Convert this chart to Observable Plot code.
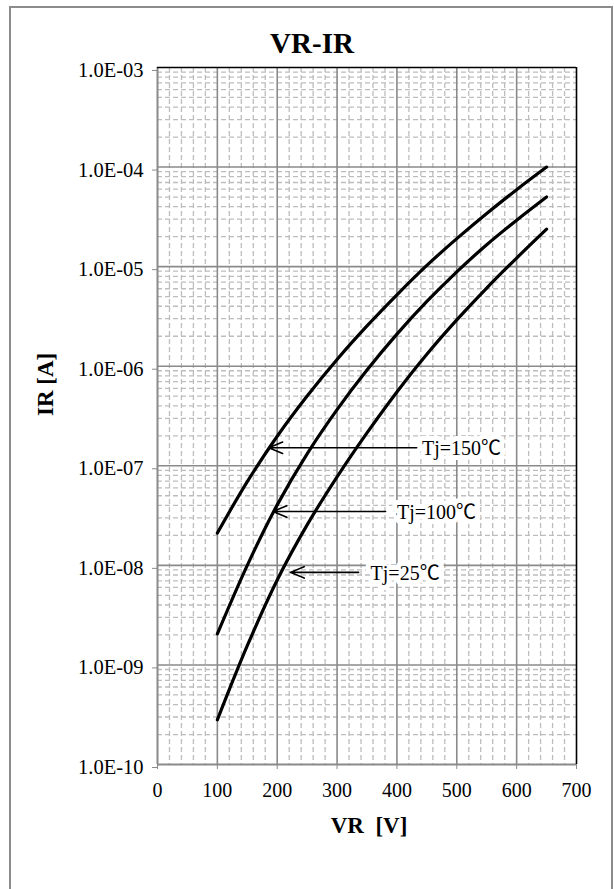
<!DOCTYPE html>
<html>
<head>
<meta charset="utf-8">
<script src="https://cdn.jsdelivr.net/npm/d3@7"></script>
<script src="https://cdn.jsdelivr.net/npm/@observablehq/plot@0.6"></script>
<style>
  html, body { margin: 0; padding: 0; background: #fff; }
  #wrap { position: relative; width: 614px; height: 889px; overflow: hidden; }
  #frame { position: absolute; left: 9px; top: 6px; width: 604px; height: 900px; border: 2px solid #8c8c8c; box-sizing: border-box; }
  #chart { position: absolute; left: 0; top: 0; }
</style>
</head>
<body>
<div id="wrap"><div id="frame"></div><div id="chart"></div></div>
<script>
// ---- data ----
const title = "VR-IR";
const xLabel = "VR  [V]";
const yLabel = "IR [A]";
const vr = [100, 150, 200, 250, 300, 350, 400, 450, 500, 550, 600, 650];
const ir150 = [2.11e-8, 6.93e-8, 1.98e-7, 5.02e-7, 1.17e-6, 2.54e-6, 5.22e-6, 1.03e-5, 1.91e-5, 3.42e-5, 5.93e-5, 1.0e-4];
const ir100 = [2.05e-9, 1.0e-8, 4.05e-8, 1.32e-7, 3.67e-7, 9.16e-7, 2.10e-6, 4.47e-6, 8.87e-6, 1.66e-5, 2.93e-5, 5.01e-5];
const ir25  = [2.81e-10, 1.56e-9, 7.14e-9, 2.55e-8, 7.74e-8, 2.14e-7, 5.52e-7, 1.32e-6, 2.92e-6, 6.10e-6, 1.22e-5, 2.38e-5];
const xTicks = [0, 100, 200, 300, 400, 500, 600, 700];
const yTicks = [1e-10, 1e-9, 1e-8, 1e-7, 1e-6, 1e-5, 1e-4, 1e-3];
const yTickLabels = ["1.0E-10", "1.0E-09", "1.0E-08", "1.0E-07", "1.0E-06", "1.0E-05", "1.0E-04", "1.0E-03"];
// annotations: label, text x, arrow tail x, arrow tip x, y
const annLabels = ["Tj=150\u2103", "Tj=100\u2103", "Tj=25\u2103"];
const annTextX = [442, 400, 356];
const annTailX = [433, 381, 336];
const annTipX = [186, 193, 222];
const annY = [1.52e-7, 3.48e-8, 8.5e-9];

// ---- build ----
const series = [
  {name: "150", ir: ir150},
  {name: "100", ir: ir100},
  {name: "25", ir: ir25}
];
const pts = series.flatMap(s => vr.map((v, i) => ({tj: s.name, vr: v, ir: s.ir[i]})));
const anns = annLabels.map((t, i) => ({t, tx: annTextX[i], x1: annTailX[i], x2: annTipX[i], y: annY[i]}));

const minorX = d3.range(20, 700, 20).filter(v => v % 100 !== 0);
const majorX = d3.range(100, 700, 100);
const minorY = [];
for (let e = -10; e < -3; e++) for (let k = 2; k <= 9; k++) minorY.push(k * Math.pow(10, e));
const majorY = yTicks.slice(1, -1);
const fmtY = d => yTickLabels[yTicks.findIndex(t => Math.abs(Math.log10(t) - Math.log10(d)) < 1e-6)];

const font = "'Liberation Serif', 'Times New Roman', 'Noto Sans CJK JP', serif";

const chart = Plot.plot({
  width: 614,
  height: 889,
  marginLeft: 157,
  marginRight: 38,
  marginTop: 67,
  marginBottom: 125,
  style: {fontFamily: font, fontSize: "20px", color: "#000", background: "transparent"},
  x: {domain: [0, 700]},
  y: {type: "log", domain: [1e-10, 1e-3]},
  marks: [
    Plot.ruleX(minorX, {stroke: "#bdbdbd", strokeWidth: 1.3, strokeDasharray: "5,3"}),
    Plot.ruleY(minorY, {stroke: "#bdbdbd", strokeWidth: 1.3, strokeDasharray: "5,3"}),
    Plot.ruleX(majorX, {stroke: "#8a8a8a", strokeWidth: 1.6}),
    Plot.ruleY(majorY, {stroke: "#8a8a8a", strokeWidth: 1.6}),
    Plot.ruleX([0], {stroke: "#8a8a8a", strokeWidth: 2}),
    Plot.ruleY([1e-10], {stroke: "#8a8a8a", strokeWidth: 2}),
    Plot.ruleX([700], {stroke: "#000", strokeWidth: 1.6}),
    Plot.ruleY([1e-3], {stroke: "#000", strokeWidth: 1.6}),
    Plot.axisX({ticks: xTicks, tickSize: 5, tickPadding: 13, tickFormat: d => String(d), label: null, stroke: "#8a8a8a", fontSize: 20}),
    Plot.axisY({ticks: yTicks, tickSize: 5, tickPadding: 9, tickFormat: fmtY, label: null, stroke: "#8a8a8a", fontSize: 20.5, dy: 3}),
    Plot.line(pts, {x: "vr", y: "ir", z: "tj", stroke: "#000", strokeWidth: 3.2, curve: "catmull-rom"}),
    Plot.text(anns, {x: "tx", y: "y", text: "t", textAnchor: "start", fontSize: 20, fill: "#000", stroke: "#fff", strokeWidth: 10, paintOrder: "stroke", dy: 1}),
    Plot.arrow(anns, {x1: "x1", y1: "y", x2: "x2", y2: "y", stroke: "#000", strokeWidth: 1.6, headLength: 14, headAngle: 45}),
    Plot.text([title], {frameAnchor: "top", lineAnchor: "middle", dx: -55, dy: -24, fontSize: 29, fontWeight: "bold"}),
    Plot.text([xLabel], {frameAnchor: "bottom", lineAnchor: "middle", dx: 2, dy: 61, fontSize: 23, fontWeight: "bold"}),
    Plot.text([yLabel], {frameAnchor: "left", dx: -112, rotate: -90, fontSize: 23, fontWeight: "bold"})
  ]
});
document.getElementById("chart").appendChild(chart);
</script>
</body>
</html>
